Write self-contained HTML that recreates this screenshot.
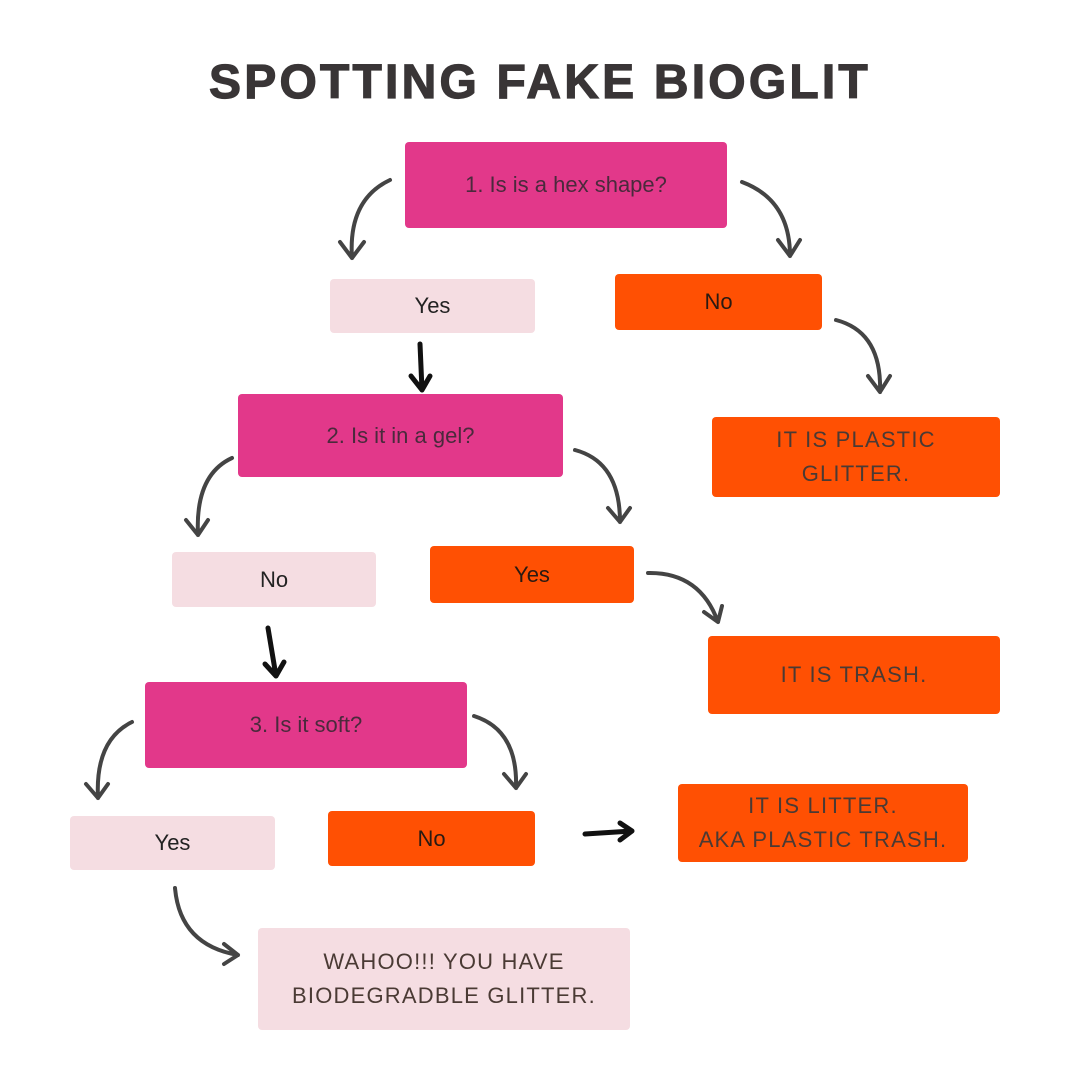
<!DOCTYPE html>
<html><head><meta charset="utf-8"><style>
html,body{margin:0;padding:0;background:#fff}
body{width:1080px;height:1080px;position:relative;overflow:hidden;font-family:"Liberation Sans",sans-serif}
.t{position:absolute;left:0;width:1080px;top:55px;text-align:center;font-weight:bold;font-size:48px;color:#393536;letter-spacing:3.2px;-webkit-text-stroke:1.2px #393536}
.b{position:absolute;display:flex;align-items:center;justify-content:center;text-align:center;color:#3e3a3c;font-size:22px;line-height:34px;border-radius:4px}
.p{background:#e2388a;color:#4a2a3c}
.l{background:#f5dde2;color:#222}
.o{background:#ff5003;color:#2a1a12}
.u{letter-spacing:1.2px;font-size:22px;color:#4a3a34}
</style></head><body>
<div class="t">SPOTTING FAKE BIOGLIT</div>
<div class="b p" style="left:405px;top:142px;width:322px;height:86px">1. Is is a hex shape?</div>
<div class="b l" style="left:330px;top:279px;width:205px;height:54px">Yes</div>
<div class="b o" style="left:615px;top:274px;width:207px;height:56px">No</div>
<div class="b o u" style="left:712px;top:417px;width:288px;height:80px">IT IS PLASTIC<br>GLITTER.</div>
<div class="b p" style="left:238px;top:394px;width:325px;height:83px">2. Is it in a gel?</div>
<div class="b l" style="left:172px;top:552px;width:204px;height:55px">No</div>
<div class="b o" style="left:430px;top:546px;width:204px;height:57px">Yes</div>
<div class="b o u" style="left:708px;top:636px;width:292px;height:78px">IT IS TRASH.</div>
<div class="b p" style="left:145px;top:682px;width:322px;height:86px">3. Is it soft?</div>
<div class="b l" style="left:70px;top:816px;width:205px;height:54px">Yes</div>
<div class="b o" style="left:328px;top:811px;width:207px;height:55px">No</div>
<div class="b o u" style="left:678px;top:784px;width:290px;height:78px">IT IS LITTER.<br>AKA PLASTIC TRASH.</div>
<div class="b l u" style="left:258px;top:928px;width:372px;height:102px">WAHOO!!! YOU HAVE<br>BIODEGRADBLE GLITTER.</div>
<svg width="1080" height="1080" style="position:absolute;left:0;top:0" fill="none" stroke="#444" stroke-width="4" stroke-linecap="round" stroke-linejoin="round">
<path d="M390 180 Q348 200 352 258 M340 242 L352 258 L364 242"/>
<path d="M742 182 Q790 200 790 256 M778 240 L790 256 L800 240"/>
<path d="M836 320 Q882 332 880 392 M868 376 L880 392 L890 376"/>
<path d="M232 458 Q195 475 198 535 M186 520 L198 535 L208 520"/>
<path d="M575 450 Q620 462 620 522 M608 508 L620 522 L630 508"/>
<path d="M648 573 Q700 572 718 622 M704 612 L718 622 L722 606"/>
<path d="M132 722 Q95 740 98 798 M86 784 L98 798 L108 784"/>
<path d="M474 716 Q518 730 516 788 M504 774 L516 788 L526 774"/>
<path d="M175 888 Q180 945 238 955 M224 944 L238 955 L224 964"/>
<g stroke="#111" stroke-width="5">
<path d="M420 344 L422 390 M411 376 L422 390 L430 376"/>
<path d="M268 628 L276 676 M265 664 L276 676 L284 662"/>
<path d="M585 834 L632 831 M620 823 L632 831 L620 840"/>
</g>
</svg>
</body></html>
